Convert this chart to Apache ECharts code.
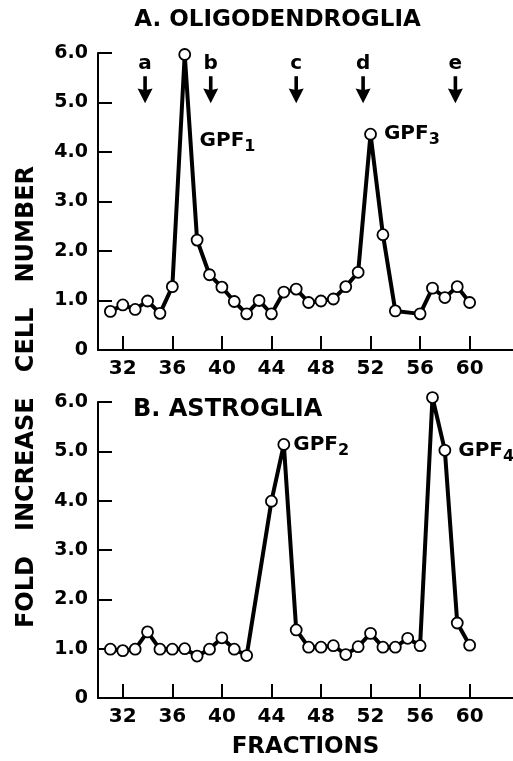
<!DOCTYPE html>
<html>
<head>
<meta charset="utf-8">
<style>html,body{margin:0;padding:0;background:#fff;}#c{width:513px;height:761px;}</style>
<script src="https://cdn.jsdelivr.net/npm/echarts@6/dist/echarts.min.js"></script>
</head>
<body>
<div id="c"></div>
<script>
// ---- data ----
const oligoFractions = [31,32,33,34,35,36,37,38,39,40,41,42,43,44,45,46,47,48,49,50,51,52,53,54,56,57,58,59,60];
const oligoValues    = [0.78,0.91,0.82,0.99,0.74,1.28,5.97,2.22,1.52,1.27,0.98,0.73,1.00,0.73,1.17,1.23,0.96,0.99,1.03,1.28,1.57,4.36,2.33,0.79,0.73,1.25,1.06,1.28,0.96];
const astroFractions = [31,32,33,34,35,36,37,38,39,40,41,42,44,45,46,47,48,49,50,51,52,53,54,55,56,57,58,59,60];
const astroValues    = [0.99,0.96,0.99,1.34,0.99,0.99,1.00,0.85,0.99,1.22,0.99,0.86,3.99,5.14,1.38,1.03,1.03,1.06,0.88,1.04,1.31,1.03,1.03,1.21,1.06,6.09,5.02,1.52,1.07];
const xTickValues = [32,36,40,44,48,52,56,60];
const yTickValues = [0,1,2,3,4,5,6];
const arrowFractions = [33.8,39.1,46.0,51.4,58.85];
const arrowLetters = ['a','b','c','d','e'];
const arrowLevel = 5.26;
const panelTitles = ['A. OLIGODENDROGLIA','B. ASTROGLIA'];
const yTitle = 'FOLD   INCREASE   CELL   NUMBER';
const xTitle = 'FRACTIONS';
const gpf1 = {fraction: 38.2, value: 4.22, sub: '1'};
const gpf3 = {fraction: 52, sub: '3'};
const gpf2 = {fraction: 45, sub: '2'};
const gpf4 = {fraction: 58, sub: '4'};

const FONT = 'DejaVu Sans';
const rich = {
  m: {fontFamily: FONT, fontWeight: 'bold', fontSize: 20, lineHeight: 20, verticalAlign: 'top', color: '#000'},
  s: {fontFamily: FONT, fontWeight: 'bold', fontSize: 16, lineHeight: 16, verticalAlign: 'top', padding: [8,0,0,0], color: '#000'}
};
function gpfText(sub){ return '{m|GPF}{s|' + sub + '}'; }

function makeSeries(fr, vals, gridIdx, labelMap) {
  return {
    type: 'line', xAxisIndex: gridIdx, yAxisIndex: gridIdx, clip: false,
    symbol: 'circle', symbolSize: 11,
    itemStyle: {color: '#fff', borderColor: '#000', borderWidth: 1.8},
    lineStyle: {color: '#000', width: 4},
    z: 3,
    data: fr.map((f, i) => {
      const item = {value: [f, vals[i]]};
      if (labelMap[f]) {
        item.label = {show: true, position: 'right', distance: labelMap[f].d, formatter: gpfText(labelMap[f].sub), rich: rich};
      }
      return item;
    })
  };
}

const axisCommon = {
  axisLine: {show: true, onZero: false, lineStyle: {color: '#000', width: 2}},
  splitLine: {show: false}
};

function xAxis(gridIdx, withName) {
  const a = Object.assign({}, axisCommon, {
    type: 'value', gridIndex: gridIdx, min: 30, max: 63.5,
    axisTick: {show: true, inside: true, length: 14, lineStyle: {color: '#000', width: 2}, customValues: xTickValues},
    axisLabel: {show: true, margin: 9, color: '#000', fontFamily: FONT, fontWeight: 'bold', fontSize: 20, customValues: xTickValues, formatter: v => String(v)}
  });
  if (withName) {
    a.name = xTitle;
    a.nameLocation = 'middle';
    a.nameGap = 38;
    a.nameTextStyle = {color: '#000', fontFamily: FONT, fontWeight: 'bold', fontSize: 23, verticalAlign: 'top'};
  }
  return a;
}
function yAxis(gridIdx) {
  return Object.assign({}, axisCommon, {
    type: 'value', gridIndex: gridIdx, min: 0, max: 6, interval: 1,
    axisTick: {show: true, inside: true, length: 14, lineStyle: {color: '#000', width: 2}},
    axisLabel: {show: true, margin: 10, color: '#000', fontFamily: FONT, fontWeight: 'bold', fontSize: 19,
      formatter: v => v === 0 ? '0' : v.toFixed(1)}
  });
}

const arrowPath = 'path://M3.8,0 L6.2,0 L6.2,13 L10,12 L5,26 L0,12 L3.8,13 Z';

const option = {
  animation: false,
  backgroundColor: '#fff',
  grid: [
    {left: 98, top: 53, width: 415, height: 297},
    {left: 98, top: 402, width: 415, height: 296}
  ],
  xAxis: [xAxis(0, false), xAxis(1, true)],
  yAxis: [yAxis(0), yAxis(1)],
  graphic: [
    {type: 'text', x: 277.5, y: 20, style: {text: panelTitles[0], fontFamily: FONT, fontWeight: 'bold', fontSize: 23, fill: '#000', textAlign: 'center', textVerticalAlign: 'middle'}},
    {type: 'text', x: 133, y: 410, style: {text: panelTitles[1], fontFamily: FONT, fontWeight: 'bold', fontSize: 24, fill: '#000', textAlign: 'left', textVerticalAlign: 'middle'}},
    {type: 'text', x: 27, y: 397, rotation: Math.PI / 2, style: {text: yTitle, fontFamily: FONT, fontWeight: 'bold', fontSize: 24, fill: '#000', textAlign: 'center', textVerticalAlign: 'middle'}}
  ],
  series: [
    Object.assign(makeSeries(oligoFractions, oligoValues, 0, {52: {sub: gpf3.sub, d: 7}}), {
      markPoint: {
        symbol: 'circle', symbolSize: 0,
        label: {show: true, position: 'right', distance: 0, formatter: gpfText(gpf1.sub), rich: rich},
        data: [{coord: [gpf1.fraction, gpf1.value]}]
      }
    }),
    makeSeries(astroFractions, astroValues, 1, {45: {sub: gpf2.sub, d: 3}, 58: {sub: gpf4.sub, d: 7}}),
    {
      type: 'scatter', xAxisIndex: 0, yAxisIndex: 0, clip: false,
      symbol: arrowPath, symbolSize: [15, 27],
      itemStyle: {color: '#000', opacity: 1},
      label: {show: true, position: 'top', distance: 2, color: '#000', fontFamily: FONT, fontWeight: 'bold', fontSize: 20,
        formatter: p => arrowLetters[p.dataIndex]},
      data: arrowFractions.map(f => [f, arrowLevel])
    }
  ]
};
const chart = echarts.init(document.getElementById('c'), null, {renderer: 'canvas'});
chart.setOption(option);
</script>
</body>
</html>
